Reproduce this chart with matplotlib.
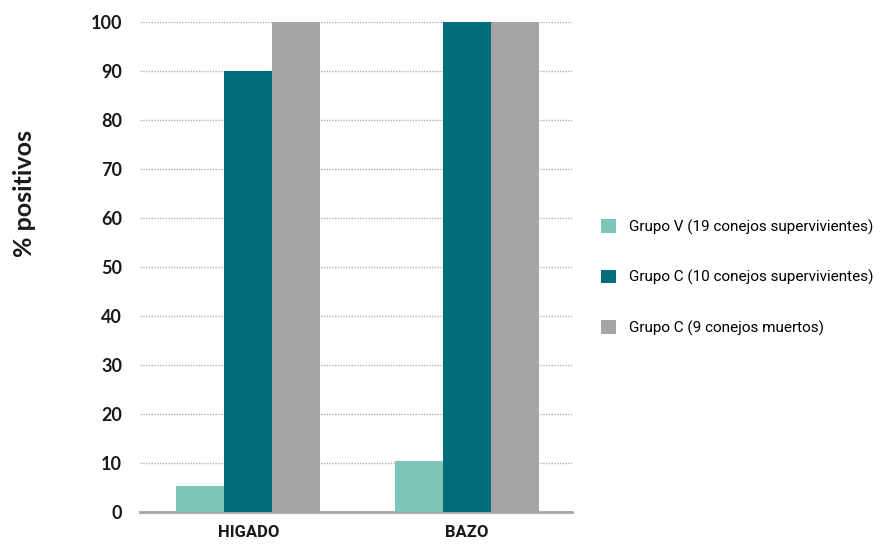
import matplotlib
matplotlib.use("Agg")
import matplotlib.pyplot as plt
import numpy as np

# data
categories = ["HIGADO", "BAZO"]
series = ["Grupo V (19 conejos supervivientes)",
          "Grupo C (10 conejos supervivientes)",
          "Grupo C (9 conejos muertos)"]
grupo_v = [5.3, 10.5]
grupo_c_vivos = [90, 100]
grupo_c_muertos = [100, 100]
colors = ["#7DC5B9", "#006D7A", "#A5A5A5"]

fig = plt.figure(figsize=(8.81, 5.44), dpi=100)
ax = fig.add_axes([0.159, 0.0588, 0.49, 0.901])

x = np.arange(len(categories))
w = 0.22
handles = []
for i, (vals, lab, c) in enumerate(zip([grupo_v, grupo_c_vivos, grupo_c_muertos], series, colors)):
    b = ax.bar(x + (i - 1) * w, vals, w, color=c, label=lab, zorder=3)
    handles.append(b)

ax.set_xlim(-0.495, 1.48)
ax.set_ylim(0, 100)
ax.set_yticks(range(0, 101, 10))
ax.yaxis.grid(True, linestyle=(0, (1, 1)), color="#b0b0b0", linewidth=1.0, zorder=0)
for s in ["top", "right", "left"]:
    ax.spines[s].set_visible(False)
ax.spines["bottom"].set_color("#A5A5A5")
ax.spines["bottom"].set_linewidth(2)
ax.tick_params(axis="both", length=0)
ax.tick_params(axis="y", pad=13)
ax.tick_params(axis="x", pad=9)

ax.set_xticks(x)
ax.set_xticklabels(categories, fontfamily="Roboto", fontweight="bold",
                   fontsize=12, color="#1a1a1a")
for t in ax.get_yticklabels():
    t.set_fontfamily("Lato")
    t.set_fontweight("bold")
    t.set_fontsize(13)
    t.set_color("#1a1a1a")

fig.text(0.028, 0.645, "% positivos", rotation=90, ha="center", va="center",
         fontfamily="Lato", fontweight="bold", fontsize=18, color="#1a1a1a")

fig.legend(handles=handles, labels=series, loc="center left",
           bbox_to_anchor=(0.674, 0.49), frameon=False,
           prop={"family": "Roboto", "size": 11},
           handlelength=0.95, handleheight=0.95, handletextpad=0.85,
           labelspacing=2.3, borderpad=0)

fig.savefig("out.png", dpi=100)
